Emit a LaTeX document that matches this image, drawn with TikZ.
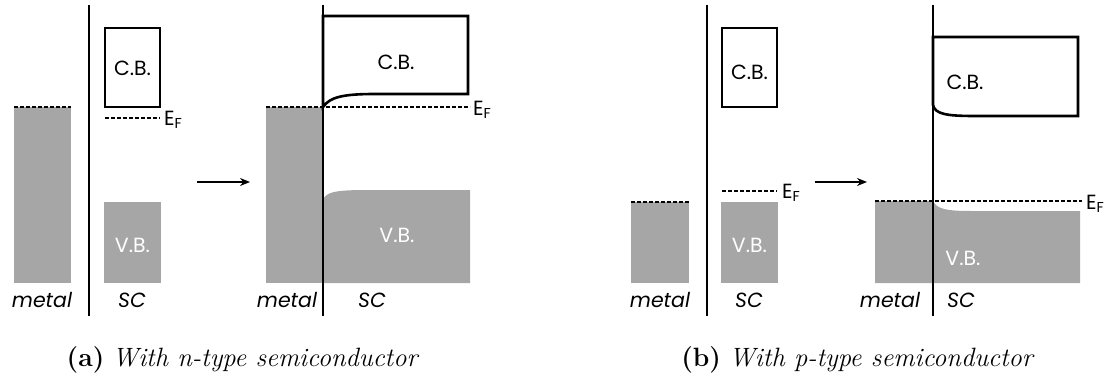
\documentclass[tikz,border=0pt]{standalone}
\usepackage{fontspec}
\setmainfont{Latin Modern Roman}
\newfontfamily\bandfont{Poppins}
\usetikzlibrary{arrows.meta}
\definecolor{band}{RGB}{166,166,166}
\tikzset{
  filled/.style={fill=band, draw=none},
  cbbox/.style={draw=black, line width=2.6pt, line join=miter},
  fermi/.style={draw=black, line width=1.8pt, dash pattern=on 3.5pt off 2.5pt},
  iface/.style={draw=black, line width=1.1pt},
  steparrow/.style={draw=black, line width=1.4pt, -{Stealth[length=10pt,width=8pt]}},
  lbl/.style={font=\bandfont\fontsize{20.5}{20.5}\selectfont, inner sep=0pt},
  wlbl/.style={lbl, text=white},
  sublbl/.style={font=\bandfont\itshape\fontsize{20.5}{20.5}\selectfont, inner sep=0pt},
  eflbl/.style={font=\bandfont\fontsize{20.5}{20.5}\selectfont, inner sep=0pt, anchor=west},
  captext/.style={font=\fontsize{26.5}{26.5}\selectfont, inner sep=0pt}
}
\newcommand{\EF}{E\textsubscript{F}}
\begin{document}
\begin{tikzpicture}[x=1pt, y=-1pt]
\useasboundingbox (0,0) rectangle (1110,378);

% ---------- (a) n-type: separated ----------
\fill[filled] (14,107) rectangle (71,283);
\draw[fermi] (14,107) -- (71,107);
\draw[iface] (89,5) -- (89,316);
\draw[cbbox] (105,28) rectangle (160,107);
\node[lbl] (cbA) at (132.5,68) {C.B.};
\draw[fermi] (105,118) -- (160,118);
\node[eflbl] (efA) at (164,120) {\EF};
\fill[filled] (104,202) rectangle (161,283);
\node[wlbl] (vbA) at (132.5,245) {V.B.};
\node[sublbl] (metA) at (42,300) {metal};
\node[sublbl] (scA) at (132,300) {SC};

\coordinate (arA1) at (197,182);
\coordinate (arA2) at (250,182);
\draw[steparrow] (arA1) -- (arA2);

% ---------- (a) n-type: in contact ----------
\fill[filled] (266,107) rectangle (323,283);
\fill[filled] (323,200) .. controls (326,192) and (335,190.5) .. (360,190)
  -- (470,190) -- (470,283) -- (323,283) -- cycle;
\draw[fermi] (266,107) -- (470,107);
\draw[cbbox] (323,107) .. controls (330,97) and (343,94) .. (375,94)
  -- (468,94) -- (468,16) -- (323,16) -- cycle;
\draw[iface] (323,5) -- (323,316);
\node[lbl] (cbB) at (396,62) {C.B.};
\node[eflbl] (efB) at (473,110) {\EF};
\node[wlbl] (vbB) at (397,235) {V.B.};
\node[sublbl] (metB) at (287,300) {metal};
\node[sublbl] (scB) at (372,300) {SC};

\node[captext] (capA) at (243,360) {\textbf{(a)} \textit{With n-type semiconductor}};

% ---------- (b) p-type: separated ----------
\fill[filled] (631,202) rectangle (689,283);
\draw[fermi] (631,202) -- (689,202);
\draw[iface] (707,5) -- (707,316);
\draw[cbbox] (722,28) rectangle (777,107);
\node[lbl] (cbC) at (749.5,72) {C.B.};
\draw[fermi] (722,191) -- (777,191);
\node[eflbl] (efC) at (782,193) {\EF};
\fill[filled] (721,202) rectangle (778,283);
\node[wlbl] (vbC) at (749.5,245) {V.B.};
\node[sublbl] (metC) at (660,300) {metal};
\node[sublbl] (scC) at (749,300) {SC};

\coordinate (arB1) at (815,182);
\coordinate (arB2) at (867,182);
\draw[steparrow] (arB1) -- (arB2);

% ---------- (b) p-type: in contact ----------
\fill[filled] (875,201) -- (933,201) .. controls (937,209) and (946,211) .. (972,211)
  -- (1080,211) -- (1080,283) -- (875,283) -- cycle;
\draw[fermi] (875,201) -- (1082,201);
\draw[cbbox] (933,37) -- (933,105) .. controls (935,114) and (946,116) .. (975,116)
  -- (1078,116) -- (1078,37) -- cycle;
\draw[iface] (933,5) -- (933,316);
\node[lbl] (cbD) at (965,82) {C.B.};
\node[eflbl] (efD) at (1086,204) {\EF};
\node[wlbl] (vbD) at (963,258) {V.B.};
\node[sublbl] (metD) at (890,300) {metal};
\node[sublbl] (scD) at (961,300) {SC};

\node[captext] (capB) at (858,360) {\textbf{(b)} \textit{With p-type semiconductor}};
\end{tikzpicture}
\end{document}
